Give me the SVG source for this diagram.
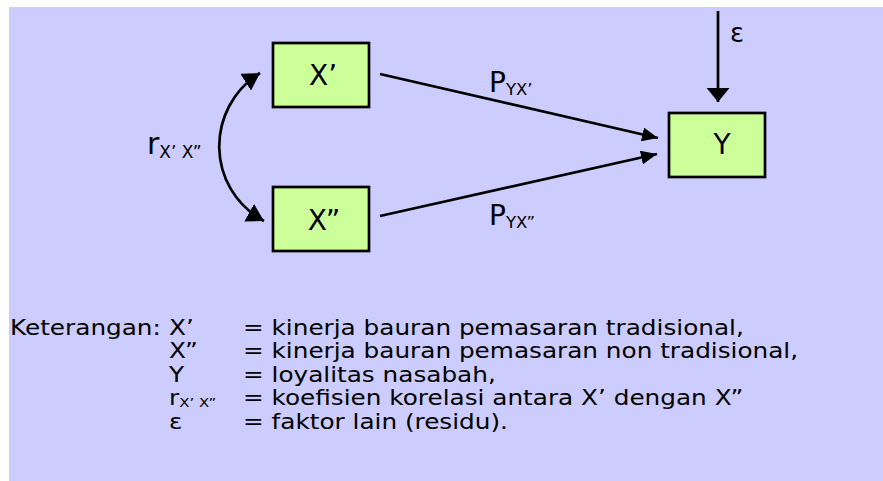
<svg xmlns="http://www.w3.org/2000/svg" width="883" height="481" viewBox="0 0 883 481">
<defs>
<style>
.bg{fill:#CCCCFF}
.box{fill:#CCFF99;stroke:#000;stroke-width:2.7}
.t{font-family:"DejaVu Sans",Verdana,sans-serif;fill:#000}
.lbl{font-size:28px}
.sub{font-size:16.5px}
.leg{font-size:21.5px}
.con{fill:none;stroke:#000;stroke-width:2.7}
</style>
<marker id="ah" viewBox="0 0 16 14" refX="16" refY="7" markerWidth="16" markerHeight="14" markerUnits="userSpaceOnUse" orient="auto-start-reverse">
<path d="M0,0 L16,7 L0,14 Z" fill="#000"/>
</marker>
<marker id="ahc" viewBox="0 0 17 20" refX="17" refY="10" markerWidth="17" markerHeight="20" markerUnits="userSpaceOnUse" orient="auto-start-reverse">
<path d="M0,0 L17,10 L0,20 Z" fill="#000"/>
</marker>
<marker id="ahe" viewBox="0 0 14 23" refX="14" refY="11.5" markerWidth="14" markerHeight="23" markerUnits="userSpaceOnUse" orient="auto">
<path d="M0,0 L14,11.5 L0,23 Z" fill="#000"/>
</marker>
</defs>
<rect class="bg" x="9" y="7" width="874" height="474"/>
<g id="connectors">
<line class="con" x1="380" y1="74" x2="658" y2="138" marker-end="url(#ah)"/>
<line class="con" x1="380" y1="216" x2="657" y2="154" marker-end="url(#ah)"/>
<line class="con" x1="718" y1="11" x2="718" y2="102" marker-end="url(#ahe)"/>
<path class="con" d="M260,73 C205,108 205,188 264,221" marker-start="url(#ahc)" marker-end="url(#ahc)"/>
<text class="t" x="730" y="42" font-size="26">ε</text>
<text class="t lbl" x="489" y="92">P<tspan class="sub" dy="3">YX’</tspan></text>
<text class="t lbl" x="489" y="225">P<tspan class="sub" dy="3">YX”</tspan></text>
<text class="t" x="147" y="154" font-size="30">r<tspan font-size="17" dy="4">X’ X”</tspan></text>
</g>
<g id="node-x1">
<rect class="box" x="273" y="43" width="96" height="64"/>
<text class="t lbl" x="323" y="85" text-anchor="middle">X’</text>
</g>
<g id="node-x2">
<rect class="box" x="273" y="187" width="96" height="64"/>
<text class="t lbl" x="324" y="230" text-anchor="middle">X”</text>
</g>
<g id="node-y">
<rect class="box" x="669" y="113" width="96" height="64"/>
<text class="t lbl" x="722" y="154" text-anchor="middle">Y</text>
</g>
<g id="legend" class="t leg" transform="scale(1.15,1)">
<text x="8.7" y="335">Keterangan:</text>
<text x="147" y="335">X’</text>
<text x="211.3" y="335">= kinerja bauran pemasaran tradisional,</text>
<text x="147" y="358.5">X”</text>
<text x="211.3" y="358.5">= kinerja bauran pemasaran non tradisional,</text>
<text x="147" y="382">Y</text>
<text x="211.3" y="382">= loyalitas nasabah,</text>
<text x="147" y="405.5">r<tspan font-size="13" dy="2">X’ X”</tspan></text>
<text x="211.3" y="405.5">= koefisien korelasi antara X’ dengan X”</text>
<text x="147" y="429">ε</text>
<text x="211.3" y="429">= faktor lain (residu).</text>
</g>
</svg>
